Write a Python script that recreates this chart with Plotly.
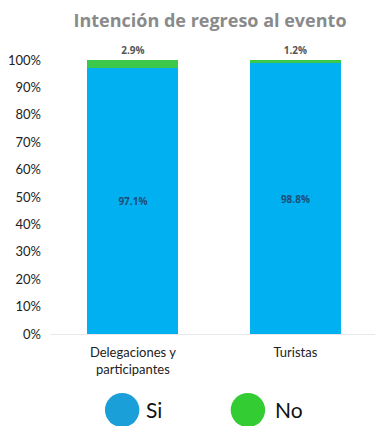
import plotly.graph_objects as go

categories = ["Delegaciones y<br>participantes", "Turistas"]
si_values = [97.1, 98.8]
no_values = [2.9, 1.2]
y_ticks = [0, 10, 20, 30, 40, 50, 60, 70, 80, 90, 100]
y_ticklabels = [f"{v}%" for v in y_ticks]
legend_names = ["Si", "No"]
bar_blue = "#00B0F0"
bar_green = "#3CC84A"
leg_blue = "#1B9FD9"
leg_green = "#33CC33"

fig = go.Figure()
fig.add_trace(go.Bar(
    x=categories, y=si_values, name=legend_names[0],
    marker=dict(color=bar_blue, line=dict(width=0)),
    text=[f"{v:.1f}%" for v in si_values], textposition="inside",
    insidetextanchor="middle",
    textfont=dict(family="Open Sans", size=10, color="#1F4E79", weight="bold"),
    width=0.56,
))
fig.add_trace(go.Bar(
    x=categories, y=no_values, name=legend_names[1],
    marker=dict(color=bar_green, line=dict(width=0)),
    text=[f"{v:.1f}%" for v in no_values], textposition="outside",
    textfont=dict(family="Open Sans", size=10, color="#555555", weight="bold"),
    cliponaxis=False, width=0.56,
))

fig.update_layout(
    width=375, height=426,
    barmode="stack",
    showlegend=False,
    margin=dict(l=50, r=0, t=60, b=92),
    plot_bgcolor="white", paper_bgcolor="white",
    uniformtext=dict(minsize=8, mode="show"),
    title=dict(text="Intención de regreso al evento", x=0.56, xanchor="center",
               y=0.952, yanchor="middle",
               font=dict(family="Open Sans", size=18, color="#8A8A8A", weight="bold")),
    xaxis=dict(range=[-0.51, 1.49], showgrid=False, showline=True,
               linecolor="#E8E8E8", ticks="", ticklabelstandoff=6,
               tickfont=dict(family="Lato", size=13, color="#222222")),
    yaxis=dict(range=[0, 100], tickvals=y_ticks, ticktext=y_ticklabels,
               showgrid=False, zeroline=False, ticks="", ticklabelstandoff=8,
               tickfont=dict(family="Lato", size=13, color="#222222")),
)

# Legend drawn as large circles with text
leg_items = [(0.222, leg_blue, legend_names[0], 0.288), (0.609, leg_green, legend_names[1], 0.686)]
for xc, col, name, xt in leg_items:
    fig.add_shape(type="circle", xref="paper", yref="paper",
                  x0=xc - 0.053, x1=xc + 0.053, y0=-0.34, y1=-0.215,
                  fillcolor=col, line=dict(width=0))
    fig.add_annotation(text=name, xref="paper", yref="paper", x=xt, y=-0.275,
                       xanchor="left", yanchor="middle", showarrow=False,
                       font=dict(family="Lato", size=21, color="#111111"))

fig.write_html("out.html")
